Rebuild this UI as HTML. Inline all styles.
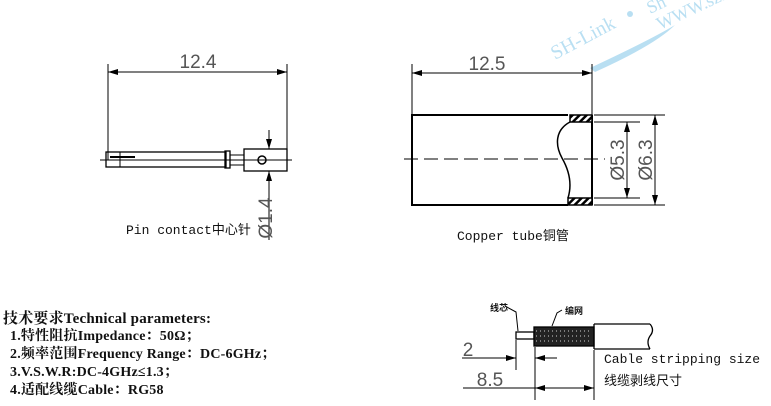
<!DOCTYPE html>
<html><head><meta charset="utf-8"><style>
body{margin:0;background:#fff;width:771px;height:406px;overflow:hidden;position:relative}
.t{position:absolute;font-family:"Liberation Serif","Noto Serif CJK SC",serif;font-weight:bold;font-size:14px;color:#111;white-space:nowrap;letter-spacing:0.2px}
</style></head><body>
<svg width="771" height="406" style="position:absolute;left:0;top:0" font-family="Liberation Sans, sans-serif">
<defs>
<marker id="a" viewBox="0 0 10 6" refX="10" refY="3" markerWidth="10" markerHeight="6" orient="auto-start-reverse" markerUnits="userSpaceOnUse"><path d="M0,0L10,3L0,6z" fill="#000"/></marker>
<pattern id="h" width="5" height="5" patternUnits="userSpaceOnUse" patternTransform="rotate(45)"><rect width="5" height="5" fill="#fff"/><rect x="0" y="0" width="2.5" height="5" fill="#000"/></pattern>
</defs>
<g fill="#a8d8f0" opacity="0.8">
<text x="555" y="60" font-family="Liberation Serif" font-size="20" transform="rotate(-28 555 60)">SH-Link</text>
<text x="660" y="30" font-family="Liberation Serif" font-size="18" transform="rotate(-25 660 30)">WWW.szsh</text>
<text x="650" y="14" font-family="Liberation Serif" font-size="18" transform="rotate(-25 650 14)">Sh</text>
<path d="M590,68 Q650,40 675,25 Q655,45 595,72z"/>
<circle cx="630" cy="14" r="3"/>
</g>
<g stroke="#000" fill="none" stroke-width="1">
<line x1="108" y1="64" x2="108" y2="160"/><line x1="287" y1="64" x2="287" y2="160"/>
<line x1="108" y1="72" x2="287" y2="72" marker-start="url(#a)" marker-end="url(#a)"/>
<line x1="100" y1="160" x2="292" y2="160"/>
<rect x="106" y="152" width="120" height="15" stroke-width="1.3"/>
<line x1="110" y1="157" x2="135" y2="157" stroke-width="2"/>
<line x1="120" y1="152" x2="120" y2="167"/>
<rect x="225" y="151" width="5" height="17" stroke-width="1.3"/>
<rect x="230" y="155" width="14" height="10"/>
<rect x="244" y="149" width="43" height="22" stroke-width="1.3"/>
<circle cx="262" cy="160" r="4" stroke-width="1.5"/>
<line x1="269" y1="130" x2="269" y2="149" marker-end="url(#a)"/>
<line x1="269" y1="240" x2="269" y2="171" marker-end="url(#a)"/>
<line x1="412" y1="64" x2="412" y2="115"/><line x1="592" y1="64" x2="592" y2="115"/>
<line x1="412" y1="73" x2="592" y2="73" marker-start="url(#a)" marker-end="url(#a)"/>
<path d="M568,115 H412 V205 H568" stroke-width="2"/>
<line x1="592" y1="115" x2="592" y2="205" stroke-width="2"/>
<rect x="570" y="115" width="22" height="7" fill="url(#h)" stroke-width="1.5"/>
<rect x="568" y="198" width="24" height="7" fill="url(#h)" stroke-width="1.5"/>
<path d="M570,122 C555,130 555,145 562,158 C570,172 572,185 568,198" stroke-width="1.5"/>
<line x1="404" y1="159" x2="605" y2="159" stroke-dasharray="14,6"/>
<line x1="594" y1="115" x2="665" y2="115"/><line x1="594" y1="205" x2="665" y2="205"/>
<line x1="594" y1="122" x2="640" y2="122"/><line x1="594" y1="198" x2="640" y2="198"/>
<line x1="627" y1="122" x2="627" y2="198" marker-start="url(#a)" marker-end="url(#a)"/>
<line x1="655" y1="115" x2="655" y2="205" marker-start="url(#a)" marker-end="url(#a)"/>
<rect x="516" y="332" width="18" height="7" stroke-width="1.3"/>
<rect x="534" y="327" width="60" height="19" fill="#222" stroke-width="1.3"/>
<path d="M594,324 H650 M594,349 H650 M594,324 V349" stroke-width="1.3"/>
<path d="M650,324 Q655,330 650,336 Q646,342 650,349" stroke-width="1.3"/>
<path d="M518,331 L516,312 L505,306"/>
<path d="M552,326 L557,313 L562,310"/>
<line x1="516" y1="340" x2="516" y2="370"/><line x1="535" y1="347" x2="535" y2="400"/><line x1="594" y1="350" x2="594" y2="400"/>
<line x1="462" y1="358" x2="516" y2="358" marker-end="url(#a)"/>
<line x1="557" y1="358" x2="535" y2="358" marker-end="url(#a)"/>
<line x1="463" y1="388" x2="594" y2="388"/>
<line x1="535" y1="388" x2="594" y2="388" marker-start="url(#a)" marker-end="url(#a)"/>
</g>
<g fill="none" stroke="#fff" stroke-width="1" opacity="0.8">
<path d="M536,331h56M536,336h56M536,341h56" stroke-dasharray="1,3"/>
</g>
<g fill="#555" font-size="19">
<text x="198" y="68" text-anchor="middle">12.4</text>
<text x="487" y="70" text-anchor="middle">12.5</text>
<text x="468" y="356" text-anchor="middle">2</text>
<text x="490" y="386" text-anchor="middle">8.5</text>
<text transform="translate(272,218) rotate(-90)" text-anchor="middle">Ø1.4</text>
<text transform="translate(624,160) rotate(-90)" text-anchor="middle">Ø5.3</text>
<text transform="translate(652,160) rotate(-90)" text-anchor="middle">Ø6.3</text>
</g>
<g font-family="Liberation Mono, Noto Sans CJK SC, monospace" font-size="13" fill="#111">
<text x="126" y="234">Pin contact中心针</text>
<text x="457" y="240">Copper tube铜管</text>
<text x="604" y="363">Cable stripping size</text>
<text x="604" y="385">线缆剥线尺寸</text>
<text x="490" y="311" font-size="9" font-weight="bold">线芯</text>
<text x="565" y="314" font-size="9" font-weight="bold">编网</text>
</g>
</svg>
<div class="t" style="left:3px;top:307px;font-size:15px">技术要求Technical parameters:</div>
<div class="t" style="left:10px;top:325px">1.特性阻抗Impedance：50Ω；</div>
<div class="t" style="left:10px;top:343px">2.频率范围Frequency Range：DC-6GHz；</div>
<div class="t" style="left:10px;top:361px">3.V.S.W.R:DC-4GHz≤1.3；</div>
<div class="t" style="left:10px;top:379px">4.适配线缆Cable：RG58</div>
</body></html>
